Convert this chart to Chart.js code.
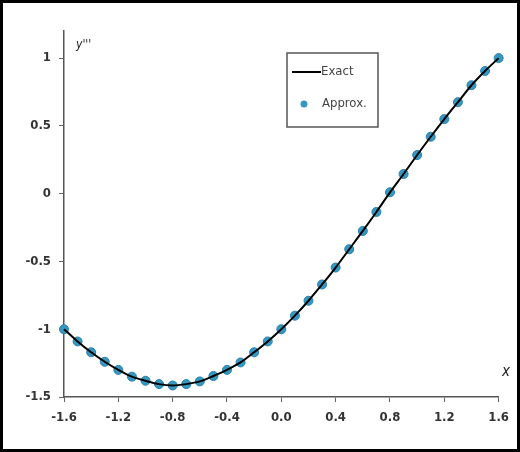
<!DOCTYPE html>
<html>
<head>
<meta charset="utf-8">
<script src="https://cdn.jsdelivr.net/npm/chart.js@4"></script>
<style>
  html, body { margin: 0; padding: 0; background: #fff; }
  #frame { width: 520px; height: 452px; box-sizing: border-box; border: 3px solid #000; }
  #wrap { position: relative; width: 514px; height: 446px; }
</style>
</head>
<body>
<div id="frame"><div id="wrap"><canvas id="myChart"></canvas></div></div>
<script>
var xs = [-1.6, -1.5, -1.4, -1.3, -1.2, -1.1, -1.0, -0.9, -0.8, -0.7, -0.6,
          -0.5, -0.4, -0.3, -0.2, -0.1, 0.0, 0.1, 0.2, 0.3, 0.4, 0.5,
          0.6, 0.7, 0.8, 0.9, 1.0, 1.1, 1.2, 1.3, 1.4, 1.5, 1.6];

var exact = [-1.00, -1.09, -1.17, -1.24, -1.30, -1.35, -1.38, -1.405, -1.415, -1.405, -1.385,
             -1.345, -1.30, -1.245, -1.17, -1.09, -1.00, -0.90, -0.79, -0.67, -0.545, -0.41,
             -0.275, -0.135, 0.01, 0.145, 0.285, 0.42, 0.55, 0.675, 0.80, 0.905, 1.00];

var approx = [-1.00, -1.09, -1.17, -1.24, -1.30, -1.35, -1.38, -1.405, -1.415, -1.405, -1.385,
              -1.345, -1.30, -1.245, -1.17, -1.09, -1.00, -0.90, -0.79, -0.67, -0.545, -0.41,
              -0.275, -0.135, 0.01, 0.145, 0.285, 0.42, 0.55, 0.675, 0.80, 0.905, 1.00];

var yTicks = [-1.5, -1, -0.5, 0, 0.5, 1];
var labels = ['Exact', 'Approx.'];

var narrow = '"DejaVu Sans Condensed", "Liberation Sans Narrow", sans-serif';
var dotColor = 'rgb(52, 152, 194)';

function pts(ys) {
  return xs.map(function (x, i) { return { x: x, y: ys[i] }; });
}

// legend box and axis names drawn inside the plot
var extras = {
  id: 'extras',
  afterDraw: function (chart) {
    var c = chart.ctx;
    c.save();
    // legend
    c.strokeStyle = '#555';
    c.lineWidth = 1.5;
    c.strokeRect(284, 50, 91, 74);
    c.strokeStyle = '#000';
    c.lineWidth = 2;
    c.beginPath();
    c.moveTo(289, 69);
    c.lineTo(318, 69);
    c.stroke();
    c.fillStyle = dotColor;
    c.beginPath();
    c.arc(301, 101, 3.5, 0, Math.PI * 2);
    c.fill();
    c.fillStyle = '#444';
    c.font = '13px ' + narrow;
    c.textBaseline = 'middle';
    c.fillText(labels[0], 318, 69);
    c.fillText(labels[1], 319, 101);
    // axis names
    c.font = 'italic 12px ' + narrow;
    c.fillStyle = '#222';
    c.fillText("y'''", 73, 42);
    c.font = 'italic 15px ' + narrow;
    c.fillText('x', 499, 369);
    c.restore();
  }
};

var ctx = document.getElementById('myChart');

var myChart = new Chart(ctx, {
  type: 'scatter',
  data: {
    datasets: [{
      label: labels[0],
      data: pts(exact),
      showLine: true,
      borderColor: '#000',
      borderWidth: 2,
      pointRadius: 0,
      tension: 0.3,
      clip: false,
      order: 0
    }, {
      label: labels[1],
      data: pts(approx),
      showLine: false,
      pointRadius: 4.5,
      pointBackgroundColor: dotColor,
      pointBorderColor: 'rgb(40, 128, 168)',
      pointBorderWidth: 1,
      clip: false,
      order: 1
    }]
  },
  options: {
    responsive: true,
    maintainAspectRatio: false,
    animation: false,
    layout: { padding: { left: 0, top: 28, right: 18, bottom: 0 } },
    plugins: {
      legend: { display: false },
      tooltip: { enabled: false }
    },
    scales: {
      x: {
        type: 'linear',
        min: -1.6,
        max: 1.6,
        afterFit: function (s) { s.height = 52; },
        ticks: {
          stepSize: 0.4,
          padding: 8,
          color: '#333',
          font: { family: narrow, size: 13, weight: 'bold' },
          callback: function (v) { return (Math.round(v * 10) / 10).toFixed(1); }
        },
        grid: { drawOnChartArea: false, tickLength: 5, color: '#666' },
        border: { color: '#555', width: 1.5 }
      },
      y: {
        min: -1.5,
        max: 1.2,
        afterFit: function (s) { s.width = 61; },
        afterBuildTicks: function (s) {
          s.ticks = yTicks.map(function (v) { return { value: v }; });
        },
        ticks: {
          padding: 8,
          color: '#333',
          font: { family: narrow, size: 13, weight: 'bold' },
          callback: function (v) { return String(v); }
        },
        grid: { drawOnChartArea: false, tickLength: 5, color: '#666' },
        border: { color: '#555', width: 1.5 }
      }
    }
  },
  plugins: [extras]
});
</script>
</body>
</html>
